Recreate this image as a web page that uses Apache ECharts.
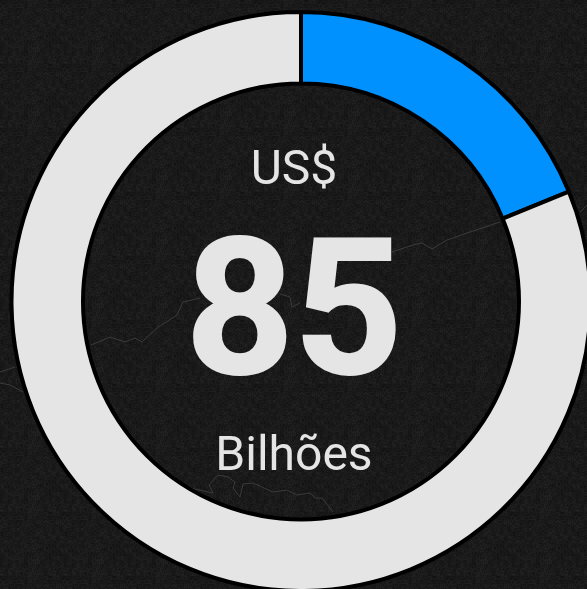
<!DOCTYPE html>
<html><head><meta charset="utf-8">
<style>html,body{margin:0;padding:0;background:#1b1b1b}#c{width:587px;height:589px}</style>
<script src="https://cdn.jsdelivr.net/npm/echarts@6/dist/echarts.min.js"></script>
</head><body><div id="c"></div>
<script>
const names = ['Destaque','Restante'];
const values = [18.8, 81.2];
const colors = ['#0091ff','#e5e5e5'];
const topText = 'US$';
const midText = '85';
const botText = 'Bilhões';
// faint map contours of the backdrop (decoration, not data)
const contours = [
  [[91,345],[110,337],[125,342],[135,338],[142,342],[157,328],[177,315],[183,302],[200,298]],
  [[280,294],[290,297],[292,307],[300,303]],
  [[392,252],[413,245],[422,243],[432,249],[447,240],[470,232],[500,222]],
  [[0,372],[15,367]],
  [[0,383],[10,385],[23,392]],
  [[580,212],[587,205]],
  [[190,488],[213,493],[209,485],[218,475],[228,477],[235,482],[233,488],[240,497],[243,484],[253,483],[273,492],[287,490],[297,495],[310,493],[315,498],[322,498],[333,512]]
];
// deterministic grain tile for the backdrop
const tile = document.createElement('canvas');
tile.width = tile.height = 64;
const g = tile.getContext('2d');
for (let y = 0; y < 64; y++) for (let x = 0; x < 64; x++) {
  const h = Math.abs(Math.sin(x * 12.9898 + y * 78.233) * 43758.5453) % 1;
  const c = Math.abs(Math.sin(Math.floor(x / 4) * 3.7 + Math.floor(y / 4) * 9.1) * 917.3) % 1;
  const v = Math.round(17 + h * 12 + c * 6);
  g.fillStyle = `rgb(${v},${v},${v})`;
  g.fillRect(x, y, 1, 1);
}
const chart = echarts.init(document.getElementById('c'),null,{renderer:'canvas'});
chart.setOption({
  backgroundColor:{image:tile,repeat:'repeat'},
  animation:false,
  series:[{
    type:'pie',z:5,center:[301,301.5],radius:[218,289.5],startAngle:90,clockwise:true,
    label:{show:false},labelLine:{show:false},silent:true,
    itemStyle:{borderColor:'#000',borderWidth:4},
    data:names.map((n,i)=>({name:n,value:values[i],itemStyle:{color:colors[i]}}))
  }],
  graphic:[
    ...contours.map(p=>({type:'polyline',z:1,silent:true,shape:{points:p},style:{stroke:'#3a3a3a',lineWidth:1,fill:null}})),
    {type:'text',z:10,style:{x:294,y:172,text:topText,fill:'#e5e5e5',font:'400 48px Roboto',align:'center',verticalAlign:'middle'}},
    {type:'text',z:10,style:{x:294,y:326,text:midText,fill:'#e5e5e5',stroke:'#e5e5e5',lineWidth:2,font:'700 189px Roboto',align:'center',verticalAlign:'middle'}},
    {type:'text',z:10,style:{x:294,y:458,text:botText,fill:'#e5e5e5',font:'400 48px Roboto',align:'center',verticalAlign:'middle'}}
  ]
});
</script></body></html>
